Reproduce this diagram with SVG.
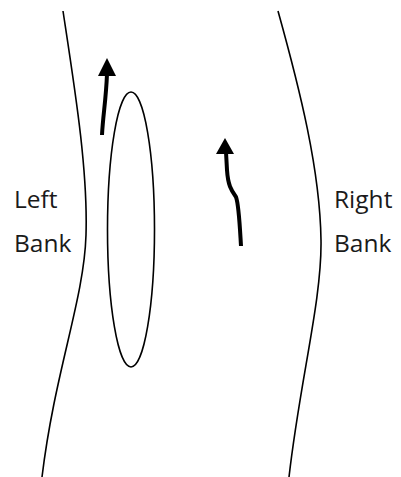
<svg xmlns="http://www.w3.org/2000/svg" width="401" height="477" viewBox="0 0 401 477">
<defs>
<style>
.bank{fill:none;stroke:#000;stroke-width:1.6}
.flow{fill:none;stroke:#000;stroke-width:4;stroke-linecap:butt}
.lbl{font-family:"Open Sans","Noto Sans",sans-serif;font-size:24.5px;fill:#1a1a1a}
.head{fill:#000}
</style>
</defs>
<rect width="401" height="477" fill="#fff"/>
<g id="left-bank">
<path class="bank" d="M63,11 C75,90 88,170 86,235 C84,300 55,370 42,477"/>
<text class="lbl" x="14" y="208">Left</text>
<text class="lbl" x="14" y="252">Bank</text>
</g>
<g id="right-bank">
<path class="bank" d="M278,11 C300,90 320,170 321,240 C322,300 300,380 289,477"/>
<text class="lbl" x="334" y="208">Right</text>
<text class="lbl" x="334" y="252">Bank</text>
</g>
<g id="island">
<ellipse class="bank" cx="131" cy="229.5" rx="23.5" ry="137.5"/>
</g>
<g id="connectors">
<path class="flow" d="M102,135 C103,115 106,100 107,74"/>
<polygon class="head" points="107,58 116,76 98,76"/>
<path class="flow" d="M241,246 C240,230 239,205 236,197 C231,190 228,185 227,170 L226,152"/>
<polygon class="head" points="225,138 234,154 216,154"/>
</g>
</svg>
